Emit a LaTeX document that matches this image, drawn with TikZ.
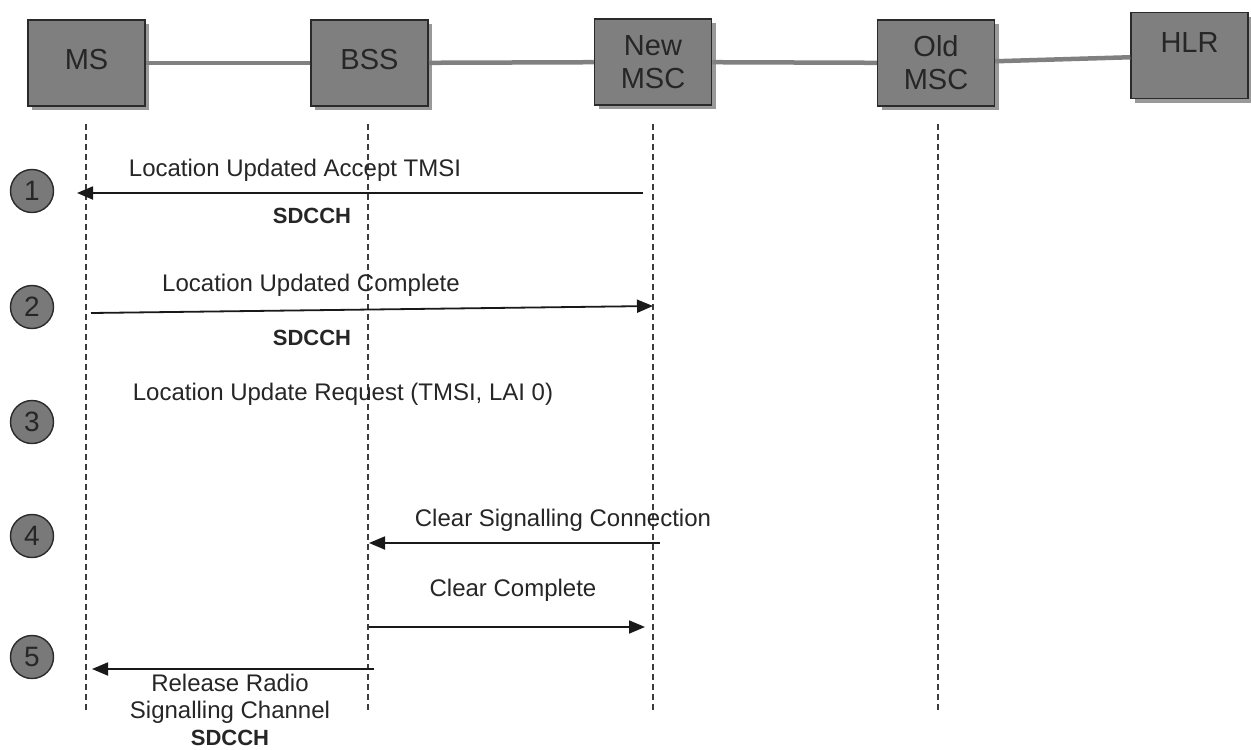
\documentclass[tikz,border=0pt]{standalone}
\usepackage{fontspec}
\setmainfont{Liberation Sans}
\usetikzlibrary{arrows.meta,shadows}

\definecolor{boxgray}{HTML}{7F7F7F}
\definecolor{boxedge}{HTML}{2A2A2A}
\definecolor{ink}{HTML}{262626}
\definecolor{linkgray}{HTML}{808080}
\definecolor{lifegray}{HTML}{3C3C3C}

\tikzset{
  entity/.style={rectangle, draw=boxedge, line width=1.5pt, fill=boxgray,
    minimum width=117pt, minimum height=86pt, inner sep=0pt, align=center,
    text=ink, font=\fontsize{29}{33}\selectfont,
    drop shadow={shadow xshift=4pt, shadow yshift=-4pt, fill=black, opacity=0.4}},
  link/.style={draw=linkgray, line width=4.5pt},
  lifeline/.style={draw=lifegray, line width=1.5pt, dash pattern=on 6pt off 4pt},
  stepno/.style={circle, draw=boxedge, line width=1.4pt, fill=boxgray!95!black,
    minimum size=43pt, inner sep=0pt, text=ink, font=\fontsize{28}{28}\selectfont},
  msg/.style={draw=black!90, line width=1.8pt, -{Triangle[length=16pt,width=13pt]}},
  lbl/.style={anchor=base, inner sep=0pt, text=ink, font=\fontsize{24}{27}\selectfont},
  chan/.style={anchor=base, inner sep=0pt, text=ink, font=\bfseries\fontsize{22}{27}\selectfont},
}

\begin{document}
\begin{tikzpicture}[x=1pt, y=-1pt]
  \useasboundingbox[fill=white] (0,0) rectangle (1251,750);

  % network elements
  \node[entity] (ms)  at (86.5,63)  {MS\\[-26pt]\mbox{}};
  \node[entity] (bss) at (369.5,63) {BSS\\[-26pt]\mbox{}};
  \node[entity] (nmsc) at (653,62)  {New\\MSC};
  \node[entity] (omsc) at (936,63)  {Old\\MSC};
  \node[entity] (hlr) at (1189.5,55.5) {HLR\\[-7pt]\mbox{}};

  % physical links between elements
  \draw[link] (ms) -- (bss);
  \draw[link] (bss) -- (nmsc);
  \draw[link] (nmsc) -- (omsc);
  \draw[link] (omsc) -- (hlr);

  % lifelines
  \coordinate (ms-top) at (86,124);   \coordinate (ms-bot) at (86,712);
  \coordinate (bss-top) at (368,124); \coordinate (bss-bot) at (368,712);
  \coordinate (nm-top) at (653,124);  \coordinate (nm-bot) at (653,712);
  \coordinate (om-top) at (938,124);  \coordinate (om-bot) at (938,712);
  \draw[lifeline] (ms-top) -- (ms-bot);
  \draw[lifeline] (bss-top) -- (bss-bot);
  \draw[lifeline] (nm-top) -- (nm-bot);
  \draw[lifeline] (om-top) -- (om-bot);

  % step markers
  \node[stepno] (s1) at (32,191) {1};
  \node[stepno] (s2) at (32,307) {2};
  \node[stepno] (s3) at (32,422) {3};
  \node[stepno] (s4) at (32,536) {4};
  \node[stepno] (s5) at (32,657) {5};

  % message end points
  \coordinate (m1a) at (643,193); \coordinate (m1b) at (77,193);
  \coordinate (m2a) at (91,313);  \coordinate (m2b) at (653,306);
  \coordinate (m4a) at (660,543); \coordinate (m4b) at (369,543);
  \coordinate (m5a) at (369,627); \coordinate (m5b) at (645,627);
  \coordinate (m6a) at (374,669); \coordinate (m6b) at (92,669);

  % messages
  \draw[msg] (m1a) -- (m1b);
  \node[lbl] (t1) at (295,176.5) {Location Updated Accept TMSI};
  \node[chan] (c1) at (312,223) {SDCCH};

  \draw[msg] (m2a) -- (m2b);
  \node[lbl] (t2) at (311,291.5) {Location Updated Complete};
  \node[chan] (c2) at (312,345) {SDCCH};

  \node[lbl] (t3) at (343,400.5) {Location Update Request (TMSI, LAI 0)};

  \draw[msg] (m4a) -- (m4b);
  \node[lbl] (t4) at (563,526.5) {Clear Signalling Connection};

  \draw[msg] (m5a) -- (m5b);
  \node[lbl] (t5) at (513,596.5) {Clear Complete};

  \draw[msg] (m6a) -- (m6b);
  \node[lbl, align=center] (t6) at (230,745.5)
    {Release Radio\\Signalling Channel\\{\bfseries\fontsize{22}{27}\selectfont SDCCH}};
\end{tikzpicture}
\end{document}
